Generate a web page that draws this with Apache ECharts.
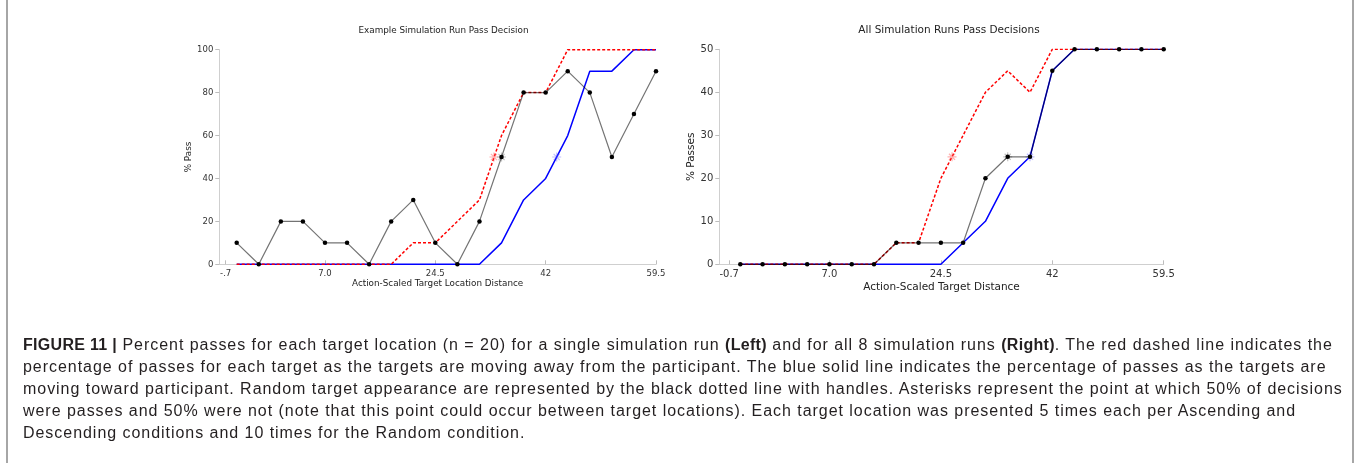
<!DOCTYPE html>
<html>
<head>
<meta charset="utf-8">
<script src="https://cdn.jsdelivr.net/npm/echarts@6/dist/echarts.min.js"></script>
<style>
  html, body { margin: 0; padding: 0; background: #fff; }
  #wrap { position: relative; width: 1357px; height: 463px; overflow: hidden; }
  #chart { position: absolute; left: 0; top: 0; width: 1357px; height: 463px; }
  #caption { position: absolute; left: 23px; top: 334px; }
  #caption div {
    font-family: "Liberation Sans", Arial, sans-serif; font-size: 16px; line-height: 22px;
    letter-spacing: 0.96px; color: #231f20; white-space: nowrap;
  }
  #caption b { font-weight: bold; letter-spacing: 0.3px; }
</style>
</head>
<body>
<div id="wrap">
  <div id="chart"></div>
  <div id="caption"></div>
</div>
<script>
// Target locations (action-scaled distance) shared by both panels
const distances = [-7, -3.5, 0, 3.5, 7, 10.5, 14, 17.5, 21, 24.5, 28, 31.5, 35, 38.5, 42, 45.5, 49, 52.5, 56, 59.5];
const tickValues = [-8.75, 7, 24.5, 42, 59.5];
const leftTickLabels = ['-.7', '7.0', '24.5', '42', '59.5'];
const rightTickLabels = ['-0.7', '7.0', '24.5', '42', '59.5'];

// Single simulation run (% pass)
const runAscending  = [0, 0, 0, 0, 0, 0, 0, 0, 10, 10, 20, 30, 60, 80, 80, 100, 100, 100, 100, 100];
const runDescending = [0, 0, 0, 0, 0, 0, 0, 0, 0, 0, 0, 0, 10, 30, 40, 60, 90, 90, 100, 100];
const runRandom     = [10, 0, 20, 20, 10, 10, 0, 20, 30, 10, 0, 20, 50, 80, 80, 90, 80, 50, 70, 90];
// 50% crossing points [distance, %]
const runAscendingMid  = [33.8, 50];
const runDescendingMid = [43.75, 50];
const runRandomMid     = [35, 50];

// All simulation runs (% passes)
const allAscending  = [0, 0, 0, 0, 0, 0, 0, 5, 5, 20, 30, 40, 45, 40, 50, 50, 50, 50, 50, 50];
const allDescending = [0, 0, 0, 0, 0, 0, 0, 0, 0, 0, 5, 10, 20, 25, 45, 50, 50, 50, 50, 50];
const allRandom     = [0, 0, 0, 0, 0, 0, 0, 5, 5, 5, 5, 20, 25, 25, 45, 50, 50, 50, 50, 50];
const allAscendingMid  = [26.25, 25];
const allDescendingMid = [38.5, 25];
const allRandomMid     = [35, 25];

const captionLines = [
  '<b>FIGURE 11 |</b> Percent passes for each target location (n = 20) for a single simulation run <b>(Left)</b> and for all 8 simulation runs <b>(Right)</b>. The red dashed line indicates the',
  'percentage of passes for each target as the targets are moving away from the participant. The blue solid line indicates the percentage of passes as the targets are',
  'moving toward participant. Random target appearance are represented by the black dotted line with handles. Asterisks represent the point at which 50% of decisions',
  'were passes and 50% were not (note that this point could occur between target locations). Each target location was presented 5 times each per Ascending and',
  'Descending conditions and 10 times for the Random condition.'
];

document.getElementById('caption').innerHTML = captionLines.map(t => '<div>' + t + '</div>').join('');

const zip = vals => vals.map((v, i) => [distances[i], v]);
const ASTERISK = 'path://M0 5H10M5 0V10M1.6 1.6L8.4 8.4M8.4 1.6L1.6 8.4';
const AXIS_FONT = 'DejaVu Sans';

function xAxis(gridIndex, min, labels, fontSize, name, nameGap, nameSize) {
  return {
    type: 'value', gridIndex, min, max: 59.5,
    axisLine: { onZero: false, lineStyle: { color: '#cfcfcf', width: 1 } },
    axisTick: { inside: true, length: 4, customValues: tickValues, lineStyle: { color: '#bdbdbd' } },
    axisLabel: {
      customValues: tickValues, margin: 5, fontSize, color: '#333', fontFamily: AXIS_FONT,
      formatter: v => {
        let k = 0;
        tickValues.forEach((t, i) => { if (Math.abs(t - v) < Math.abs(tickValues[k] - v)) k = i; });
        return labels[k];
      }
    },
    splitLine: { show: false },
    name, nameLocation: 'middle', nameGap,
    nameTextStyle: { fontSize: nameSize, color: '#222', fontFamily: AXIS_FONT }
  };
}

function yAxis(gridIndex, max, interval, fontSize, name, nameGap, nameSize) {
  return {
    type: 'value', gridIndex, min: 0, max, interval,
    axisLine: { show: true, onZero: false, lineStyle: { color: '#cfcfcf', width: 1 } },
    axisTick: { show: true, length: 4, lineStyle: { color: '#bdbdbd' } },
    axisLabel: { margin: 6, fontSize, color: '#333', fontFamily: AXIS_FONT },
    splitLine: { show: false },
    name, nameLocation: 'middle', nameGap,
    nameTextStyle: { fontSize: nameSize, color: '#222', fontFamily: AXIS_FONT }
  };
}

function panelSeries(idx, asc, desc, rnd, ascMid, descMid, rndMid) {
  const base = { xAxisIndex: idx, yAxisIndex: idx, animation: false, silent: true };
  return [
    Object.assign({}, base, {
      type: 'line', data: zip(desc), showSymbol: false, z: 2,
      lineStyle: { color: '#0000ff', width: 1.5 }
    }),
    Object.assign({}, base, {
      type: 'line', data: zip(asc), showSymbol: false, z: 3,
      lineStyle: { color: '#ff0000', width: 1.5, type: [3, 2] }
    }),
    Object.assign({}, base, {
      type: 'scatter', z: 3.5, symbol: ASTERISK, symbolSize: 9,
      data: [
        { value: ascMid, itemStyle: { borderColor: 'rgba(255,80,80,0.55)' } },
        { value: descMid, itemStyle: { borderColor: 'rgba(80,80,255,0.45)' } },
        { value: rndMid, itemStyle: { borderColor: 'rgba(0,0,0,0.3)' } }
      ],
      itemStyle: { color: 'transparent', borderWidth: 1.2 }
    }),
    Object.assign({}, base, {
      type: 'line', data: zip(rnd), z: 4,
      symbol: 'circle', symbolSize: 4.5,
      itemStyle: { color: '#000' },
      lineStyle: { color: 'rgba(0,0,0,0.55)', width: 1.2 }
    })
  ];
}

const chart = echarts.init(document.getElementById('chart'), null, { renderer: 'canvas' });

const option = {
  backgroundColor: 'transparent',
  animation: false,
  grid: [
    { left: 219.3, right: 1357 - 656, top: 49.7, bottom: 463 - 264.3 },
    { left: 719.3, right: 1357 - 1163.7, top: 49.3, bottom: 463 - 264.3 }
  ],
  xAxis: [
    xAxis(0, -9.76, leftTickLabels, 8.5, 'Action-Scaled Target Location Distance', 13, 8.8),
    xAxis(1, -10.3, rightTickLabels, 10, 'Action-Scaled Target Distance', 17, 10.5)
  ],
  yAxis: [
    yAxis(0, 100, 20, 8.5, '% Pass', 23, 8.8),
    yAxis(1, 50, 10, 10, '% Passes', 19, 10.5)
  ],
  series: [
    ...panelSeries(0, runAscending, runDescending, runRandom, runAscendingMid, runDescendingMid, runRandomMid),
    ...panelSeries(1, allAscending, allDescending, allRandom, allAscendingMid, allDescendingMid, allRandomMid)
  ],
  graphic: [
    {
      type: 'text', x: 443.5, y: 31, silent: true,
      style: { text: 'Example Simulation Run Pass Decision', align: 'center', verticalAlign: 'middle',
               fontSize: 8.8, fontFamily: 'DejaVu Sans', fill: '#222' }
    },
    {
      type: 'text', x: 949, y: 30, silent: true,
      style: { text: 'All Simulation Runs Pass Decisions', align: 'center', verticalAlign: 'middle',
               fontSize: 10.5, fontFamily: 'DejaVu Sans', fill: '#222' }
    },
    { type: 'line', silent: true, shape: { x1: 7, y1: 0, x2: 7, y2: 463 }, style: { stroke: '#888', lineWidth: 1.5 } },
    { type: 'line', silent: true, shape: { x1: 1353, y1: 0, x2: 1353, y2: 463 }, style: { stroke: '#888', lineWidth: 1.5 } }
  ]
};

chart.setOption(option);
</script>
</body>
</html>
